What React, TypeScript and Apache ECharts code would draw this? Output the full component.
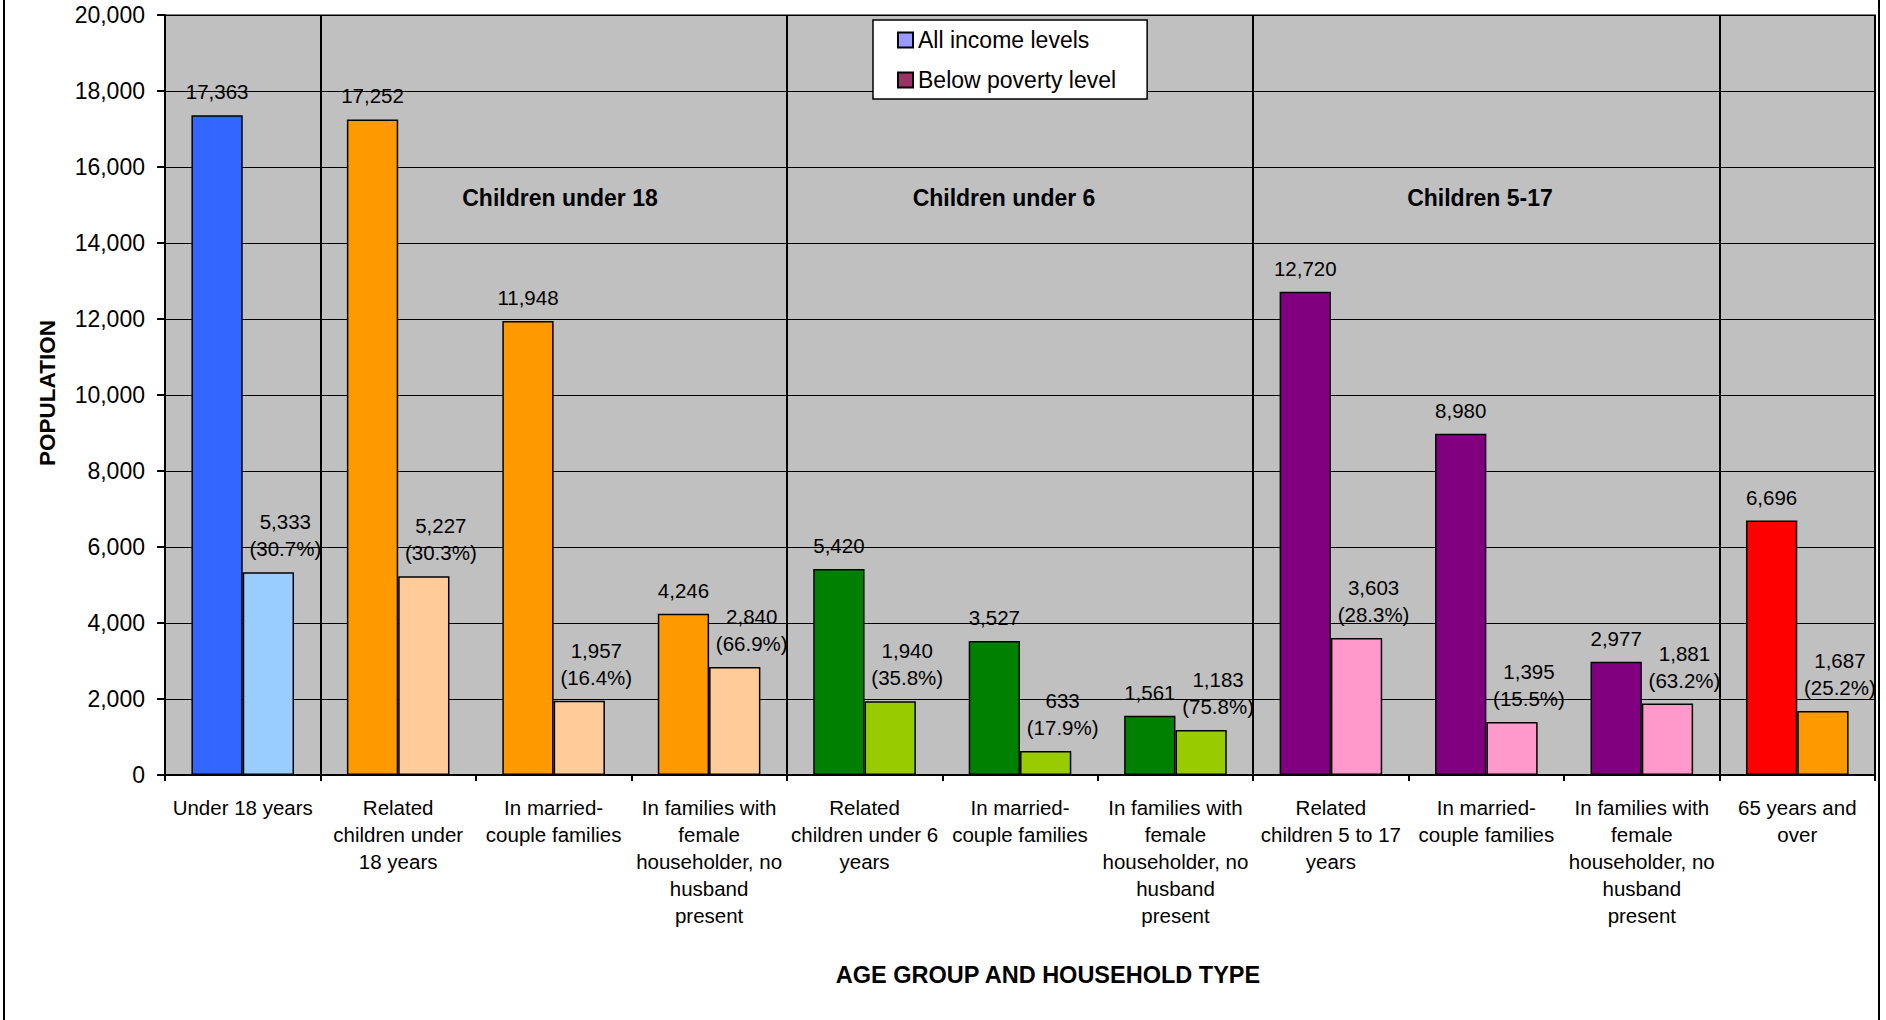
import React, { useEffect, useRef } from "react";
import * as echarts from "echarts";

const categories = [
  "Under 18 years",
  "Related\nchildren under\n18 years",
  "In married-\ncouple families",
  "In families with\nfemale\nhouseholder, no\nhusband\npresent",
  "Related\nchildren under 6\nyears",
  "In married-\ncouple families",
  "In families with\nfemale\nhouseholder, no\nhusband\npresent",
  "Related\nchildren 5 to 17\nyears",
  "In married-\ncouple families",
  "In families with\nfemale\nhouseholder, no\nhusband\npresent",
  "65 years and\nover",
];

const allIncome = [17363, 17252, 11948, 4246, 5420, 3527, 1561, 12720, 8980, 2977, 6696];
const belowPoverty = [5333, 5227, 1957, 2840, 1940, 633, 1183, 3603, 1395, 1881, 1687];
const belowPct = ["30.7", "30.3", "16.4", "66.9", "35.8", "17.9", "75.8", "28.3", "15.5", "63.2", "25.2"];

const seriesNames = ["All income levels", "Below poverty level"];
const groupTitles = ["Children under 18", "Children under 6", "Children 5-17"];
const groupSeparators = [1, 4, 7, 10];

const yMin = 0;
const yMax = 20000;
const yInterval = 2000;

const allColors = ["#3366FF", "#FF9900", "#FF9900", "#FF9900", "#008000", "#008000", "#008000", "#800080", "#800080", "#800080", "#FF0000"];
const belowColors = ["#99CCFF", "#FFCC99", "#FFCC99", "#FFCC99", "#99CC00", "#99CC00", "#99CC00", "#FF99CC", "#FF99CC", "#FF99CC", "#FF9900"];

const FONT = "'Liberation Sans', Arial, Helvetica, sans-serif";
const fmt = (n: number) => n.toLocaleString("en-US");

export default function App() {
  const ref = useRef<HTMLDivElement>(null);

  useEffect(() => {
    if (!ref.current) return;
    const chart = echarts.init(ref.current, undefined, { renderer: "svg" });
    chart.setOption({
      animation: false,
      textStyle: { fontFamily: FONT },
      grid: {
        left: 165,
        top: 15,
        right: 11,
        bottom: 245,
        show: true,
        backgroundColor: "#C0C0C0",
        borderColor: "#808080",
        borderWidth: 2,
      },
      legend: {
        orient: "vertical",
        left: 873,
        top: 20,
        padding: [7, 31, 6, 24],
        itemWidth: 15,
        itemHeight: 15,
        itemGap: 14,
        icon: "rect",
        backgroundColor: "#FFFFFF",
        borderColor: "#000000",
        borderWidth: 1.5,
        selectedMode: false,
        textStyle: { fontSize: 23, lineHeight: 26, color: "#000", fontFamily: FONT },
        data: seriesNames,
      },
      xAxis: {
        type: "category",
        data: categories,
        boundaryGap: true,
        axisLine: { show: true, lineStyle: { color: "#000", width: 2 } },
        axisTick: { show: true, length: 6, lineStyle: { color: "#000", width: 2 } },
        axisLabel: {
          interval: 0,
          margin: 19,
          fontSize: 20.5,
          lineHeight: 27,
          color: "#000",
          fontFamily: FONT,
          align: "center",
        },
        splitLine: {
          show: true,
          interval: (index: number) => groupSeparators.includes(index),
          lineStyle: { color: "#000", width: 2 },
        },
      },
      yAxis: {
        type: "value",
        min: yMin,
        max: yMax,
        interval: yInterval,
        axisLine: { show: true, lineStyle: { color: "#000", width: 2 } },
        axisTick: { show: true, length: 8, lineStyle: { color: "#000", width: 2 } },
        axisLabel: {
          margin: 20,
          fontSize: 23,
          color: "#000",
          fontFamily: FONT,
          formatter: (v: number) => fmt(v),
        },
        splitLine: { show: true, lineStyle: { color: "#000", width: 1 } },
      },
      series: [
        {
          name: seriesNames[0],
          type: "bar",
          barGap: "0%",
          barCategoryGap: "34%",
          itemStyle: { color: "#9999FF", borderColor: "#000", borderWidth: 1.5 },
          data: allIncome.map((v, i) => ({ value: v, itemStyle: { color: allColors[i] } })),
          label: {
            show: true,
            position: "top",
            distance: 10,
            fontSize: 20.5,
            lineHeight: 27,
            color: "#000",
            fontFamily: FONT,
            formatter: (p: any) => fmt(p.value),
          },
        },
        {
          name: seriesNames[1],
          type: "bar",
          barGap: "0%",
          barCategoryGap: "34%",
          itemStyle: { color: "#993366", borderColor: "#000", borderWidth: 1.5 },
          data: belowPoverty.map((v, i) => ({ value: v, itemStyle: { color: belowColors[i] } })),
          label: {
            show: true,
            position: "top",
            distance: 10,
            offset: [17, 0],
            fontSize: 20.5,
            lineHeight: 27,
            color: "#000",
            fontFamily: FONT,
            formatter: (p: any) => `${fmt(p.value)}\n(${belowPct[p.dataIndex]}%)`,
          },
        },
      ],
      graphic: [
        {
          type: "text",
          x: 560,
          y: 198,
          z: 10,
          style: { text: groupTitles[0], font: `bold 23px ${FONT}`, fill: "#000", textAlign: "center", textVerticalAlign: "middle" },
        },
        {
          type: "text",
          x: 1004,
          y: 198,
          z: 10,
          style: { text: groupTitles[1], font: `bold 23px ${FONT}`, fill: "#000", textAlign: "center", textVerticalAlign: "middle" },
        },
        {
          type: "text",
          x: 1480,
          y: 198,
          z: 10,
          style: { text: groupTitles[2], font: `bold 23px ${FONT}`, fill: "#000", textAlign: "center", textVerticalAlign: "middle" },
        },
        {
          type: "text",
          x: 1048,
          y: 975,
          style: { text: "AGE GROUP AND HOUSEHOLD TYPE", font: `bold 23.5px ${FONT}`, fill: "#000", textAlign: "center", textVerticalAlign: "middle" },
        },
        {
          type: "text",
          x: 47,
          y: 393,
          rotation: Math.PI / 2,
          style: { text: "POPULATION", font: `bold 22.5px ${FONT}`, fill: "#000", textAlign: "center", textVerticalAlign: "middle" },
        },
        {
          type: "line",
          shape: { x1: 4, y1: 0, x2: 4, y2: 1020 },
          style: { stroke: "#000", lineWidth: 2 },
        },
        {
          type: "line",
          shape: { x1: 1879, y1: 0, x2: 1879, y2: 1020 },
          style: { stroke: "#000", lineWidth: 2 },
        },
      ],
    });
    return () => chart.dispose();
  }, []);

  return (
    <div
      ref={ref}
      style={{ position: "absolute", left: 0, top: 0, width: 1886, height: 1020, background: "#fff" }}
    />
  );
}
